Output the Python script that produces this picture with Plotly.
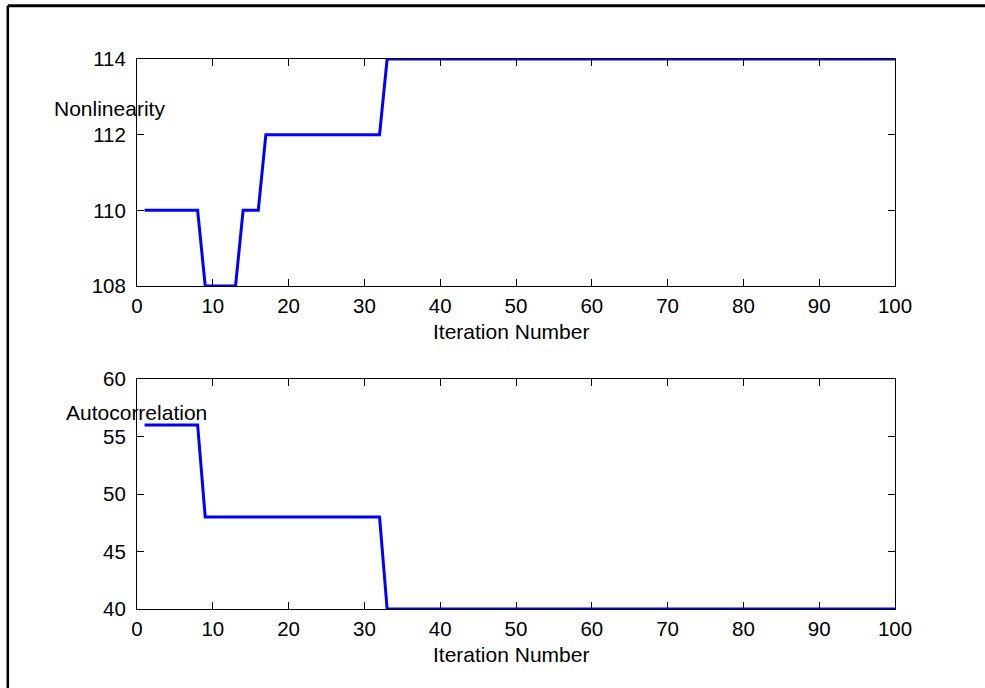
import plotly.graph_objects as go

# Iteration index shared by both panels
iterations = list(range(1, 101))

# Best nonlinearity found at each iteration
nonlinearity = [
    110, 110, 110, 110, 110, 110, 110, 110, 108, 108,
    108, 108, 108, 110, 110, 110, 112, 112, 112, 112,
    112, 112, 112, 112, 112, 112, 112, 112, 112, 112,
    112, 112, 114, 114, 114, 114, 114, 114, 114, 114,
    114, 114, 114, 114, 114, 114, 114, 114, 114, 114,
    114, 114, 114, 114, 114, 114, 114, 114, 114, 114,
    114, 114, 114, 114, 114, 114, 114, 114, 114, 114,
    114, 114, 114, 114, 114, 114, 114, 114, 114, 114,
    114, 114, 114, 114, 114, 114, 114, 114, 114, 114,
    114, 114, 114, 114, 114, 114, 114, 114, 114, 114,
]

# Absolute indicator (autocorrelation) at each iteration
autocorrelation = [
    56, 56, 56, 56, 56, 56, 56, 56, 48, 48,
    48, 48, 48, 48, 48, 48, 48, 48, 48, 48,
    48, 48, 48, 48, 48, 48, 48, 48, 48, 48,
    48, 48, 40, 40, 40, 40, 40, 40, 40, 40,
    40, 40, 40, 40, 40, 40, 40, 40, 40, 40,
    40, 40, 40, 40, 40, 40, 40, 40, 40, 40,
    40, 40, 40, 40, 40, 40, 40, 40, 40, 40,
    40, 40, 40, 40, 40, 40, 40, 40, 40, 40,
    40, 40, 40, 40, 40, 40, 40, 40, 40, 40,
    40, 40, 40, 40, 40, 40, 40, 40, 40, 40,
]

x_ticks = [0, 10, 20, 30, 40, 50, 60, 70, 80, 90, 100]
nl_ticks = [108, 110, 112, 114]
ac_ticks = [40, 45, 50, 55, 60]

W, H = 985, 688
FONT = "Liberation Sans, Arial, Helvetica, sans-serif"


def px_x(p):
    return p / W


def px_y(p):
    return 1 - p / H


fig = go.Figure()
fig.add_trace(go.Scatter(x=iterations, y=nonlinearity, mode="lines",
                         line=dict(color="#0000ff", width=3),
                         cliponaxis=False, xaxis="x", yaxis="y",
                         showlegend=False))
fig.add_trace(go.Scatter(x=iterations, y=autocorrelation, mode="lines",
                         line=dict(color="#0000ff", width=3),
                         cliponaxis=False, xaxis="x2", yaxis="y2",
                         showlegend=False))

axis_common = dict(
    showgrid=False, zeroline=False, showline=True, linecolor="black",
    linewidth=1, mirror="allticks", ticks="inside", ticklen=7,
    tickcolor="black", tickwidth=1, automargin=False,
    tickfont=dict(family=FONT, size=20.5, color="black"),
    layer="below traces",
)

x_dom = [px_x(137), px_x(895)]
fig.update_layout(
    width=W, height=H,
    margin=dict(l=0, r=0, t=0, b=0),
    paper_bgcolor="white", plot_bgcolor="white",
    font=dict(family=FONT, size=20.5, color="black"),
    xaxis=dict(domain=x_dom, range=[0, 100], tickvals=x_ticks,
               anchor="y", ticklabelstandoff=1, **axis_common),
    yaxis=dict(domain=[px_y(286), px_y(59)], range=[108, 114],
               tickvals=nl_ticks, anchor="x", ticklabelstandoff=6,
               **axis_common),
    xaxis2=dict(domain=x_dom, range=[0, 100], tickvals=x_ticks,
                anchor="y2", ticklabelstandoff=1, **axis_common),
    yaxis2=dict(domain=[px_y(609), px_y(379)], range=[40, 60],
                tickvals=ac_ticks, anchor="x2", ticklabelstandoff=6,
                **axis_common),
)

labels = [
    ("Nonlinearity", 109.5, 109),
    ("Autocorrelation", 136.5, 413),
    ("Iteration Number", 511, 331),
    ("Iteration Number", 511, 654),
]
for text, cx, cy in labels:
    fig.add_annotation(text=text, x=px_x(cx), y=px_y(cy), xref="paper",
                       yref="paper", xanchor="center", yanchor="middle",
                       showarrow=False,
                       font=dict(family=FONT, size=21, color="black"))

# Figure frame along the top and left edges
fig.add_shape(type="line", xref="paper", yref="paper",
              x0=px_x(7.8), x1=1.01, y0=px_y(5.8), y1=px_y(5.8),
              line=dict(color="black", width=3))
fig.add_shape(type="line", xref="paper", yref="paper",
              x0=px_x(7.8), x1=px_x(7.8), y0=-0.01, y1=px_y(5.8),
              line=dict(color="black", width=2.5))

fig.write_html("out.html")
